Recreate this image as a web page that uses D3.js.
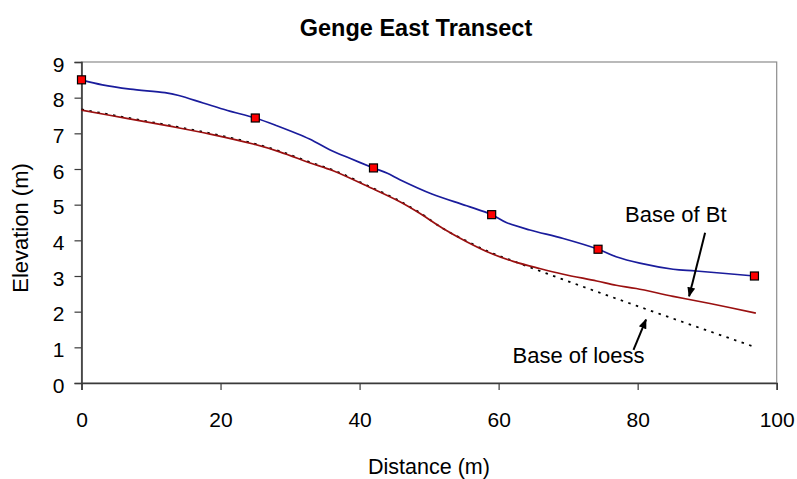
<!DOCTYPE html>
<html>
<head>
<meta charset="utf-8">
<script src="https://cdn.jsdelivr.net/npm/d3@7"></script>
<style>
  html, body { margin: 0; padding: 0; background: #fff; }
  svg { display: block; font-family: "Liberation Sans", Arial, sans-serif; }
</style>
</head>
<body>
<svg id="chart" width="797" height="479"></svg>
<script>
// ---- data ----
const surfaceX = [0, 3, 7, 12, 14, 17.5, 21, 25, 28, 32.8, 35.7, 38.6, 42, 44, 45.8, 50.4, 55.4, 59, 61.1, 64.5, 69.3, 74.3, 76.9, 80.3, 85.1, 88.4, 96.8];
const surfaceY = [8.5, 8.36, 8.24, 8.14, 8.06, 7.85, 7.64, 7.43, 7.22, 6.84, 6.54, 6.30, 6.03, 5.88, 5.70, 5.30, 4.97, 4.72, 4.50, 4.29, 4.05, 3.75, 3.54, 3.36, 3.19, 3.14, 3.0];

const btX = [0, 6.5, 12.7, 18.5, 24.7, 28.5, 32.9, 36.2, 41.5, 45.8, 48.7, 52, 55.4, 58.7, 62.1, 65.9, 69.3, 74.1, 76.9, 79.8, 85.1, 90.4, 97];
const btY = [7.65, 7.42, 7.2, 6.98, 6.7, 6.48, 6.17, 5.95, 5.48, 5.08, 4.75, 4.33, 3.96, 3.65, 3.41, 3.21, 3.05, 2.86, 2.74, 2.65, 2.43, 2.23, 1.96];

const loessX = [0, 6.5, 12.7, 18.5, 24.7, 28.5, 32.9, 36.2, 41.5, 45.8, 48.7, 52, 55.4, 58.7, 62.1, 97];
const loessY = [7.67, 7.44, 7.22, 7.0, 6.72, 6.5, 6.19, 5.97, 5.5, 5.1, 4.77, 4.33, 3.98, 3.67, 3.42, 1.0];

const markerX = [0, 25, 42, 59, 74.3, 96.8];
const markerY = [8.5, 7.43, 6.03, 4.72, 3.75, 3.0];

const xTicks = [0, 20, 40, 60, 80, 100];
const yTicks = [0, 1, 2, 3, 4, 5, 6, 7, 8, 9];

const title = "Genge East Transect";
const xTitle = "Distance (m)";
const yTitle = "Elevation (m)";
const labelBt = "Base of Bt";
const labelLoess = "Base of loess";

// ---- layout ----
const svg = d3.select("#chart");
const x = d3.scaleLinear().domain([0, 100]).range([81.5, 776.7]);
const y = d3.scaleLinear().domain([0, 9]).range([383, 62]);

const defs = svg.append("defs");
defs.append("marker")
  .attr("id", "arrow")
  .attr("viewBox", "0 0 10 10")
  .attr("refX", 9).attr("refY", 5)
  .attr("markerWidth", 5).attr("markerHeight", 5)
  .attr("markerUnits", "strokeWidth")
  .attr("orient", "auto")
  .append("path").attr("d", "M0,1 L10,5 L0,9 Z").attr("fill", "#000");

// plot area border (top/right grey)
svg.append("rect")
  .attr("x", x(0)).attr("y", y(9))
  .attr("width", x(100) - x(0)).attr("height", y(0) - y(9))
  .attr("fill", "none").attr("stroke", "#8c8c8c").attr("stroke-width", 1.2);

// axes
const xAxis = d3.axisBottom(x).tickValues(xTicks).tickSize(7).tickPadding(12).tickFormat(d3.format("d"));
const yAxis = d3.axisLeft(y).tickValues(yTicks).tickSize(7).tickPadding(10).tickFormat(d3.format("d"));

const gx = svg.append("g").attr("transform", `translate(0,${y(0)})`).call(xAxis);
const gy = svg.append("g").attr("transform", `translate(${x(0)},0)`).call(yAxis);

[gx, gy].forEach(g => {
  g.select(".domain").attr("stroke", "#3a3a3a").attr("stroke-width", 1.6);
  g.selectAll(".tick line").attr("stroke", "#3a3a3a").attr("stroke-width", 1.2);
  g.selectAll(".tick text").attr("fill", "#000").style("font-size", "21px")
    .style("font-family", "'Liberation Sans', Arial, sans-serif");
});
gx.selectAll(".tick text").attr("dy", null).attr("y", 43.5);
gy.selectAll(".tick text").attr("dy", "0.43em");

// lines
const zip = (a, b) => a.map((v, i) => [v, b[i]]);
const line = d3.line().x(d => x(d[0])).y(d => y(d[1])).curve(d3.curveCatmullRom.alpha(0.5));

svg.append("path").datum(zip(loessX, loessY))
  .attr("d", d3.line().x(d => x(d[0])).y(d => y(d[1])).curve(d3.curveMonotoneX))
  .attr("fill", "none").attr("stroke", "#000").attr("stroke-width", 1.8)
  .attr("stroke-dasharray", "2.5,5.5");

svg.append("path").datum(zip(btX, btY))
  .attr("d", line)
  .attr("fill", "none").attr("stroke", "#9a1010").attr("stroke-width", 1.7);

svg.append("path").datum(zip(surfaceX, surfaceY))
  .attr("d", line)
  .attr("fill", "none").attr("stroke", "#1a1c9c").attr("stroke-width", 1.7);

// markers
const ms = 8;
svg.append("g").selectAll("rect").data(zip(markerX, markerY)).join("rect")
  .attr("x", d => x(d[0]) - ms / 2).attr("y", d => y(d[1]) - ms / 2)
  .attr("width", ms).attr("height", ms)
  .attr("fill", "#ff0000").attr("stroke", "#000").attr("stroke-width", 1.2);

// title
svg.append("text").attr("x", 416).attr("y", 36).attr("text-anchor", "middle")
  .style("font-size", "23.5px").style("font-weight", "bold").text(title);

// axis titles
svg.append("text").attr("x", 429).attr("y", 473.5).attr("text-anchor", "middle")
  .style("font-size", "21.5px").text(xTitle);
svg.append("text").attr("transform", "translate(28,228) rotate(-90)").attr("text-anchor", "middle")
  .style("font-size", "22px").text(yTitle);

// annotations
svg.append("text").attr("x", 625).attr("y", 222).style("font-size", "22px").text(labelBt);
svg.append("line")
  .attr("x1", x(89.7)).attr("y1", y(4.21)).attr("x2", x(87.4)).attr("y2", y(2.43))
  .attr("stroke", "#000").attr("stroke-width", 2).attr("marker-end", "url(#arrow)");

svg.append("text").attr("x", 512.5).attr("y", 363.3).style("font-size", "22px").text(labelLoess);
svg.append("line")
  .attr("x1", x(79.4)).attr("y1", y(0.93)).attr("x2", x(81.2)).attr("y2", y(1.78))
  .attr("stroke", "#000").attr("stroke-width", 2).attr("marker-end", "url(#arrow)");
</script>
</body>
</html>
